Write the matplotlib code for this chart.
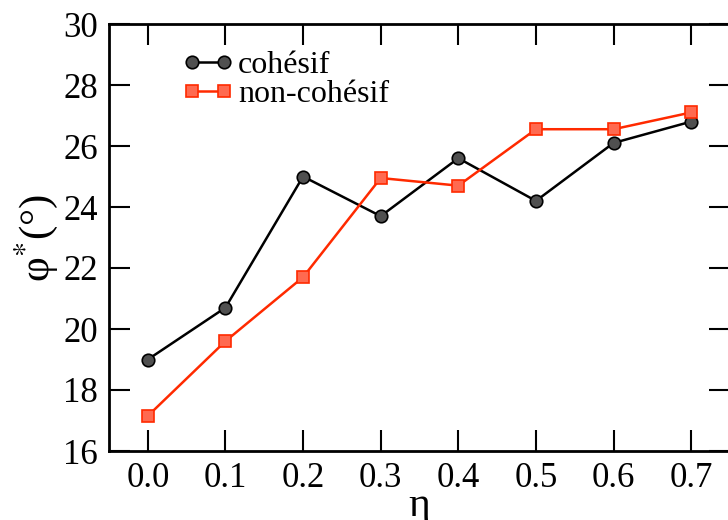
import matplotlib
matplotlib.use("Agg")
import matplotlib.pyplot as plt

eta = [0.0, 0.1, 0.2, 0.3, 0.4, 0.5, 0.6, 0.7]
cohesif = [19.0, 20.7, 25.0, 23.7, 25.6, 24.2, 26.1, 26.8]
non_cohesif = [17.15, 19.6, 21.7, 24.95, 24.7, 26.55, 26.55, 27.1]
xticks = [0.0, 0.1, 0.2, 0.3, 0.4, 0.5, 0.6, 0.7]
xticklabels = ["0.0", "0.1", "0.2", "0.3", "0.4", "0.5", "0.6", "0.7"]
yticks = [16, 18, 20, 22, 24, 26, 28, 30]

plt.rcParams['font.family'] = ['Liberation Serif', 'DejaVu Serif']
plt.rcParams['mathtext.fontset'] = 'stix'

fig = plt.figure(figsize=(7.28, 5.2), dpi=100)
ax = fig.add_axes([109/728, 1-451/520, (730-109)/728, (451-24)/520])

ax.plot(eta, cohesif, color='black', lw=1.8, marker='o', markersize=9,
        markerfacecolor='#505050', markeredgecolor='black', markeredgewidth=1.2,
        label='cohésif', clip_on=False, zorder=3)
ax.plot(eta, non_cohesif, color='#ff2a00', lw=1.8, marker='s', markersize=8,
        markerfacecolor='#ff6a50', markeredgecolor='#ff2a00', markeredgewidth=1.2,
        label='non-cohésif', clip_on=False, zorder=3)

ax.set_xlim(-0.05, 0.75)
ax.set_ylim(16, 30)
ax.set_xticks(xticks)
ax.set_xticklabels(xticklabels)
ax.set_yticks(yticks)

for s in ax.spines.values():
    s.set_linewidth(2)
ax.tick_params(direction='in', length=15, width=1.5, labelsize=25,
               top=True, right=True, pad=8)

ax.set_xlabel('η', fontsize=30, labelpad=-6)
ax.set_ylabel('φ$^{*}$(°)', fontsize=31, labelpad=2)

leg = ax.legend(loc='upper left', bbox_to_anchor=(0.082, 0.99), frameon=False,
                fontsize=23, numpoints=2, handlelength=1.6, handletextpad=0.15,
                labelspacing=0.0, borderpad=0.2)

fig.savefig('out.png', dpi=100)
